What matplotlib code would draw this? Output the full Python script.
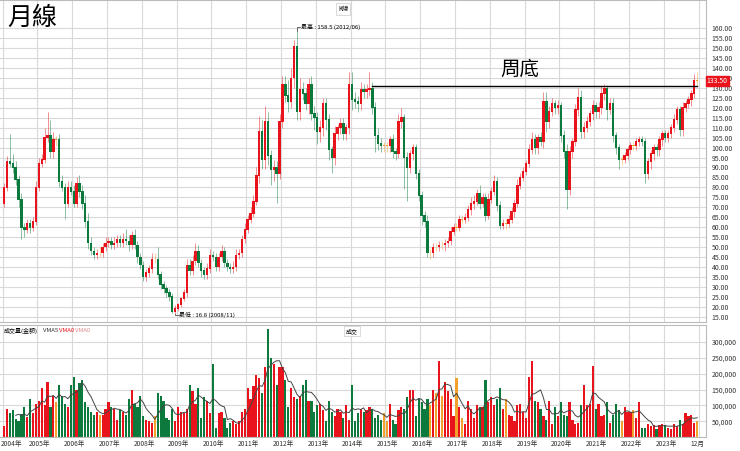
import numpy as np
import matplotlib
matplotlib.use("Agg")
import matplotlib.pyplot as plt

plt.rcParams['font.family'] = ['Noto Sans CJK TC', 'DejaVu Sans']

years = list(range(2004, 2024))
first_open = 72
close = [
 80, 93, 92, 90, 84, 74, 60, 59, 62, 60, 63, 80,
 92, 94, 105, 106, 98, 104, 104, 83, 80, 72, 80, 78,
 72, 82, 78, 72, 63, 52, 48, 46, 47, 47, 50, 52,
 53, 51, 52, 54, 52, 54, 53, 51, 56, 51, 45, 41,
 35, 37, 39, 44, 44, 36, 31, 29, 27, 25, 17.5, 19,
 21, 24, 27, 41, 38, 43, 48, 42, 38, 36, 39, 46,
 45, 40, 45, 48, 42, 40, 39, 40, 46, 47, 54, 59,
 64, 67, 73, 86, 108, 94, 113, 96, 89, 90, 87, 113,
 132, 126, 123, 135, 151, 118, 129, 127, 122, 132, 117, 115,
 108, 110, 122, 114, 99, 95, 107, 110, 112, 107, 110, 132,
 124, 123, 122, 129, 128, 129, 130, 120, 106, 102, 101, 101,
 101, 104, 98, 97, 113, 115, 95, 90, 97, 100, 87, 76,
 66, 63, 47, 47, 50, 50, 51, 51, 52, 53, 58, 60,
 60, 64, 64, 65, 69, 72, 73, 77, 72, 75, 66, 74,
 78, 83, 71, 61, 62, 62, 64, 68, 72, 81, 85, 88,
 92, 99, 104, 100, 105, 103, 123, 113, 118, 122, 120, 121,
 106, 98, 79, 98, 103, 119, 125, 108, 110, 113, 117, 121,
 118, 120, 127, 130, 119, 122, 106, 100, 94, 94, 96, 99,
 101, 101, 103, 104, 103, 87, 93, 97, 100, 99, 104, 107,
 105, 107, 110, 114, 119, 109, 120, 122, 124, 127, 134, 133.5]
upper_wick = [
 2,3,14,5,3,2,3,2,2,2,2,3,
 3,3,5,12,8,4,2,3,3,2,3,3,
 3,3,4,3,4,4,3,2,2,3,2,3,
 2,2,3,2,2,3,5,3,2,3,2,2,
 2,2,2,3,3,6,2,2,2,2,2,2,
 1,1,2,3,3,3,4,3,2,2,3,3,
 2,2,2,3,2,2,2,3,3,2,2,3,
 2,3,3,4,8,6,8,5,3,4,3,4,
 4,4,8,5,3,7.5,6,4,3,3,4,4,
 3,4,3,3,3,2,4,2,3,3,2,6,
 6,4,3,4,3,3,8,3,3,4,3,2,
 2,2,3,2,4,5,2,3,2,2,2,2,
 2,2,3,2,2,2,2,2,2,2,2,2,
 2,2,2,2,2,3,3,2,4,2,2,3,
 2,3,2,2,2,2,2,2,2,3,2,2,
 2,3,4,3,2,3,5,5,3,3,2,3,
 2,3,4,3,2,3,5,4,3,3,2,3,
 2,3,4,2,1.5,3,3,2,2,2,2,2,
 2,2,2,2,2,2,2,2,2,2,2,2,
 2,2,2,3,2,2,3,2,2,2,3,4]
lower_wick = [
 2,2,2,3,3,4,6,4,2,3,2,2,
 2,2,2,2,3,3,3,3,2,8,2,2,
 2,2,3,3,3,3,2,2,2,2,2,2,
 2,2,2,2,2,2,2,3,2,2,3,2,
 2,2,2,2,2,2,2,2,2,2,0.7,1,
 1,1,1,2,2,2,2,2,3,2,2,2,
 2,2,2,2,2,2,2,2,2,2,2,2,
 2,2,2,2,4,5,5,5,8,6,15,3,
 3,3,5,3,5,4,4,3,3,5,3,6,
 6,5,4,5,5,8,4,3,3,3,3,3,
 5,3,4,3,3,3,3,3,8,3,3,3,
 3,3,3,3,2,3,16,17,3,3,3,3,
 5,3,2,3,2,2,2,2,3,2,2,2,
 2,2,2,2,2,3,3,2,3,2,3,2,
 2,2,3,2,2,3,2,2,3,2,2,2,
 2,2,2,3,3,2,3,5,3,2,3,3,
 3,3,10,3,3,2,3,3,3,2,2,3,
 3,3,3,3,5,2,3,3,5,3,2,2,
 2,2,2,2,2,5,3,4,3,3,3,3,
 2,2,2,2,2,3,3,2,2,3,2,2]
volume_k = [
 35, 90, 75, 85, 58, 50, 72, 95, 62, 120, 75, 105,
 115, 155, 100, 175, 95, 130, 110, 165, 130, 105, 95, 165,
 190, 150, 170, 180, 110, 95, 80, 70, 80, 68, 70, 90,
 110, 95, 90, 55, 85, 80, 70, 120, 150, 105, 95, 130,
 65, 55, 50, 45, 65, 140, 130, 115, 60, 55, 90, 50,
 95, 80, 75, 90, 165, 145, 105, 155, 60, 125, 115, 75,
 230, 30, 75, 80, 60, 30, 45, 50, 40, 50, 80, 90,
 155, 120, 160, 195, 185, 140, 220, 340, 250, 230, 165, 220,
 220, 180, 95, 155, 125, 120, 130, 165, 180, 115, 115, 80,
 100, 105, 85, 50, 115, 80, 65, 90, 80, 60, 100, 55,
 165, 50, 75, 90, 80, 85, 95, 90, 60, 70, 55, 75,
 50, 105, 55, 40, 85, 95, 90, 125, 150, 150, 65, 120,
 110, 90, 120, 100, 150, 140, 240, 130, 175, 145, 120, 65,
 185, 95, 60, 40, 115, 90, 60, 100, 95, 95, 180, 110,
 125, 100, 120, 155, 90, 120, 70, 65, 50, 100, 105, 80,
 60, 190, 240, 115, 110, 90, 65, 55, 115, 40, 95, 65,
 110, 70, 65, 110, 55, 40, 45, 100, 165, 100, 105, 225,
 90, 105, 65, 70, 110, 45, 70, 105, 85, 50, 95, 80,
 80, 85, 60, 110, 30, 30, 40, 35, 38, 25, 38, 40,
 38, 30, 25, 40, 35, 55, 40, 75, 65, 70, 45, 50]
high_label = 158.5
low_label = 16.8

close = np.array(close, float)
opens = np.concatenate([[first_open], close[:-1]])
highs = np.maximum(opens, close) + np.array(upper_wick)
lows = np.minimum(opens, close) - np.array(lower_wick)
vol = np.array(volume_k) * 1000.0
n = len(close)
idx = np.arange(n)

RED = '#e8131b'; GREEN = '#0c7a3c'; ORANGE = '#f2a22c'
cols = []
for o, c in zip(opens, close):
    if abs(c - o) < 0.8:
        cols.append(ORANGE)
    elif c > o:
        cols.append(RED)
    else:
        cols.append(GREEN)

fig = plt.figure(figsize=(7.4, 4.51), dpi=100)
W = 706 / 740
ax = fig.add_axes([0, 1 - 322 / 451, W, 322 / 451])
axv = fig.add_axes([0, 1 - 437 / 451, W, 112 / 451])
xmin = -1.4
xmax = xmin + 706 / 2.9
for a in (ax, axv):
    a.set_xlim(xmin, xmax)
    for yi in range(len(years) + 1):
        a.axvline(12 * yi - 0.5, color='#d9d9d9', lw=0.8, zorder=0)
    for s in a.spines.values():
        s.set_color('#bbbbbb'); s.set_linewidth(0.8)
    a.spines['left'].set_visible(False)
    a.yaxis.tick_right()
    a.tick_params(axis='y', length=0, labelsize=5, colors='#333333', pad=4)

# price panel
ax.set_ylim(12.3, 174.2)
ticks = np.arange(15, 161, 5)
ax.set_yticks(ticks)
ax.set_yticklabels([f'{t:.2f}' for t in ticks])
for t in ticks:
    ax.axhline(t, color='#d9d9d9', lw=0.8, zorder=0)
ax.set_xticks([])
ax.vlines(idx, lows, highs, colors=cols, lw=0.6, alpha=0.55, zorder=2)
ax.bar(idx, np.abs(close - opens) + 0.4, bottom=np.minimum(opens, close) - 0.2,
       width=0.8, color=cols, zorder=3)

ax.text(1, 172, '月線', fontsize=18, va='top', ha='left')
ax.text(117, 171.5, 'K線', fontsize=4.5, va='top', ha='center',
        bbox=dict(boxstyle='square,pad=0.3', fc='white', ec='#cccccc', lw=0.5))
hi_i = int(np.argmax(highs)); lo_i = int(np.argmin(lows))
ax.plot([hi_i, hi_i, hi_i + 1.2], [highs[hi_i], 160.5, 160.5], color='#333333', lw=0.5)
ax.text(hi_i + 1.4, 160.5, f'最高 : {high_label} (2012/06)', fontsize=4.3, va='center')
ax.plot([lo_i, lo_i, lo_i + 1.2], [lows[lo_i], 15.8, 15.8], color='#333333', lw=0.5)
ax.text(lo_i + 1.4, 15.8, f'最低 : {low_label} (2008/11)', fontsize=4.3, va='center')
ax.plot([127, 239], [131, 131], color='black', lw=1.0, zorder=4)
ax.text(178, 134, '周底', fontsize=14, ha='center', va='bottom')
ax.text(xmax + 0.2, close[-1], f'{close[-1]:.2f}', fontsize=5, color='white', va='center',
        ha='left', clip_on=False, zorder=10,
        bbox=dict(boxstyle='square,pad=0.15', fc=RED, ec=RED))

# volume panel
axv.set_ylim(0, 354000)
vt = np.arange(50000, 300001, 50000)
axv.set_yticks(vt)
axv.set_yticklabels([f'{v:,}' for v in vt])
for v in vt:
    axv.axhline(v, color='#d9d9d9', lw=0.8, zorder=0)
axv.bar(idx, vol, width=0.75, color=cols, zorder=2)
vma = np.convolve(vol, np.ones(5) / 5, mode='full')[:n]
vma[:4] = np.nan
axv.plot(idx, vma, color='#444444', lw=0.7, zorder=3)
axv.text(0, 345000, '成交量(金額)', fontsize=4.3, va='top')
axv.text(13.4, 345000, 'VMA5', fontsize=4.3, va='top', color='#333333')
axv.text(19.0, 345000, 'VMA0', fontsize=4.3, va='top', color=RED)
axv.text(24.6, 345000, 'VMA0', fontsize=4.3, va='top', color='#e08a8a')
axv.text(120, 345000, '成交', fontsize=4.3, va='top', ha='center',
         bbox=dict(boxstyle='square,pad=0.3', fc='white', ec='#cccccc', lw=0.5))
axv.set_xticks([2.5] + [12 * i + 0.3 for i in range(1, len(years))] + [n - 1])
axv.set_xticklabels([f'{y}年' for y in years] + ['12月'])
axv.tick_params(axis='x', length=0, labelsize=4.8, pad=2, colors='#333333')

fig.savefig('out.png', dpi=100)
